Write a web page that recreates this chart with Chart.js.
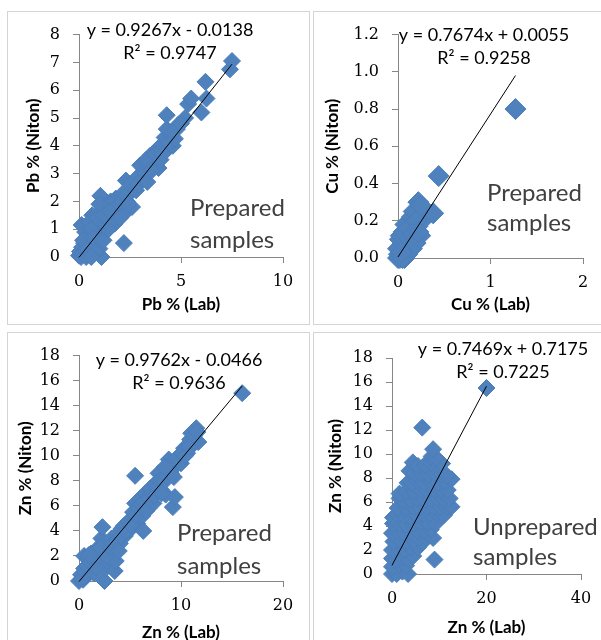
<!DOCTYPE html>
<html>
<head>
<meta charset="utf-8">
<script src="https://cdn.jsdelivr.net/npm/chart.js@4"></script>
<style>
body{margin:0;background:#fff;width:601px;height:640px;overflow:hidden;position:relative}
.box{position:absolute;border:1px solid #d4d4d4;background:#fff;overflow:hidden}
.box canvas{position:absolute;left:0;top:0}
</style>
</head>
<body>
<div class="box" style="left:7px;top:11px;width:301px;height:312px"><canvas id="pb" width="301" height="312"></canvas></div>
<div class="box" style="left:313px;top:11px;width:300px;height:312px"><canvas id="cu" width="287" height="312"></canvas></div>
<div class="box" style="left:7px;top:332px;width:301px;height:320px"><canvas id="zn" width="301" height="320"></canvas></div>
<div class="box" style="left:313px;top:332px;width:300px;height:320px"><canvas id="znu" width="287" height="320"></canvas></div>
<script>
// Pb, prepared samples: [lab, niton]
const pbPoints = [
  [0.0,0.05],[0.05,0.2],[0.1,0.0],[0.15,0.35],[0.2,0.1],[0.25,0.5],[0.3,0.25],[0.35,0.0],[0.4,0.7],[0.45,0.4],
  [0.5,0.15],[0.55,0.9],[0.6,0.55],[0.65,1.5],[0.7,0.3],[0.75,1.1],[0.8,0.75],[0.85,1.3],[0.9,0.5],[0.95,1.0],
  [1.0,1.6],[1.05,2.2],[1.1,0.0],[1.1,0.8],[1.15,1.25],[1.2,1.85],[1.25,1.0],[1.3,1.5],[1.35,0.95],[1.4,1.7],
  [1.5,1.3],[1.55,2.0],[1.6,1.45],[1.7,1.75],[1.75,1.2],[1.8,2.1],[1.9,1.6],[2.0,1.9],[2.1,2.25],[2.2,0.5],
  [2.2,1.55],[2.3,2.75],[2.35,2.0],[2.5,2.3],[2.6,1.8],[2.7,2.6],[0.13,1.15],[0.3,0.9],[0.5,1.25],
  [0.2,0.6],[0.4,0.3],[0.6,1.0],[0.7,0.7],[0.9,1.4],[1.0,0.3],[1.2,0.6],[1.3,1.2],[1.45,1.0],[1.6,1.9],
  [1.7,1.4],[1.85,1.8],[2.0,1.4],[2.1,2.0],[2.3,2.2],[2.4,1.9],[2.5,2.6],[2.8,2.4],[2.9,2.9],[1.0,1.9],
  [0.8,0.2],[0.6,0.0],[1.2,1.5],[1.5,1.65],[2.9,2.6],[3.15,3.2],
  [3.0,3.3],[3.1,2.8],[3.25,3.05],[3.35,2.7],[3.4,3.3],[3.5,3.65],[3.7,3.5],[3.8,3.85],[3.9,3.2],[4.0,4.0],
  [3.6,3.4],[3.3,3.5],[3.55,3.1],[3.75,3.7],[4.05,3.85],[4.2,4.3],[4.35,3.9],[4.5,4.3],[4.6,4.0],[4.8,4.6],
  [4.85,4.75],[5.2,5.0],[4.0,3.5],
  [4.1,3.7],[4.3,4.6],[4.3,5.1],[4.4,4.1],[4.7,4.25],[4.6,4.5],[5.0,4.8],[5.35,5.5],[5.5,5.7],[6.0,5.2],
  [6.25,5.7],[6.2,6.3],[7.4,6.75],[7.5,7.05]
];
// Cu, prepared samples
const cuPoints = [
  [0.0,0.0],[0.01,0.02],[0.02,0.0],[0.03,0.05],[0.04,0.01],[0.05,0.08],[0.06,0.03],[0.07,0.0],[0.08,0.1],[0.09,0.05],
  [0.1,0.12],[0.1,0.02],[0.12,0.08],[0.13,0.2],[0.14,0.15],[0.15,0.05],[0.16,0.18],[0.17,0.1],[0.18,0.21],[0.19,0.14],
  [0.2,0.24],[0.21,0.17],[0.22,0.3],[0.23,0.22],[0.24,0.12],[0.26,0.2],[0.28,0.25],[0.38,0.24],[0.44,0.44],[1.27,0.8],
  [0.0,0.05],[0.02,0.1],[0.05,0.0],[0.03,0.12],[0.06,0.14],[0.08,0.18],[0.11,0.16],[0.13,0.1],[0.15,0.22],[0.17,0.25],
  [0.2,0.2],[0.25,0.28],[0.11,0.06],[0.16,0.13],[0.19,0.08],[0.22,0.14],[0.04,0.03]
];
// Zn, prepared samples
const znPoints = [
  [0.0,0.0],[0.2,0.5],[0.4,0.1],[0.5,1.0],[0.5,2.0],[0.7,0.4],[0.9,1.8],[1.0,0.8],[1.2,2.2],[1.3,1.2],
  [1.5,0.6],[1.6,1.7],[1.8,2.6],[2.0,1.4],[2.2,3.4],[2.3,4.3],[2.4,2.2],[2.5,0.0],[2.6,1.0],[2.8,2.8],
  [3.0,1.8],[3.2,3.4],[3.4,2.6],[3.5,0.8],[3.6,1.6],[3.8,3.8],[4.0,3.0],[4.2,4.2],[4.5,3.6],[4.7,4.6],
  [5.0,4.1],[5.2,5.0],[5.5,8.4],[5.5,6.2],[5.7,4.6],[6.0,6.6],[6.2,5.2],[6.3,4.0],[6.5,7.0],[6.8,5.8],
  [7.0,7.4],[7.3,6.2],[7.5,7.8],[7.8,8.6],[8.0,7.3],[8.3,8.2],[8.5,6.9],[8.8,9.7],[9.0,8.6],[9.2,5.9],
  [9.4,6.7],[9.5,9.2],[9.8,10.0],[10.0,9.4],[10.3,10.6],[10.6,10.2],[10.9,11.3],[11.2,10.9],[11.5,12.2],[11.7,11.1],
  [11.0,11.8],[0.3,0.2],[0.6,0.7],[0.8,1.2],[1.1,1.5],[1.4,1.9],[1.7,1.1],[1.9,2.0],[2.1,2.7],[2.7,2.0],
  [3.1,2.7],[3.3,3.0],[3.7,3.2],[3.9,2.4],[4.1,3.6],[4.4,4.4],[4.6,4.0],[4.9,4.8],[5.1,4.5],[5.3,5.5],
  [5.6,5.3],[5.9,5.8],[6.1,6.1],[6.4,6.3],[6.6,5.6],[6.9,6.6],[7.2,7.0],[7.4,6.8],[7.7,7.5],[7.9,8.0],
  [8.2,7.8],[8.6,8.4],[8.9,8.9],[9.1,9.4],[9.3,8.3],[9.6,9.8],[10.1,10.2],[10.4,10.0],[10.8,10.7],[11.3,11.6],
  [11.6,11.9],[8.4,9.1],[8.1,7.0],[1.0,2.1],[16.0,15.0]
];
// Zn, unprepared samples
const znuPoints = [
  [0,0],[1,0],[2.2,0.2],[3.4,0],
  [0,0.6],[1.5,0.8],[3,0.7],
  [0,1.3],[0.9,1.2],[2.2,1.4],[3.6,1.2],[4.5,1.5],
  [0,2],[1.3,2.1],[2.6,2.0],[4,2.2],[5.5,2.2],[6.4,2.6],
  [0.3,2.7],[1.8,2.8],[3.2,2.7],[4.6,2.8],[5.8,3.0],[7.2,3.0],[8.7,3.0],
  [0,3.4],[1,3.6],[2.5,3.4],[4,3.5],[5.4,3.6],[6.8,3.6],[8.2,3.7],
  [0.2,4.2],[1.7,4.2],[3,4.1],[4.6,4.2],[6,4.3],[7.5,4.3],[9.2,4.2],
  [0.2,4.7],[1,5],[2.4,4.9],[3.8,4.8],[5.2,4.9],[6.6,5.0],[8,5.0],[9.6,5.0],[11,4.9],
  [1.2,5.5],[3,5.5],[4.5,5.6],[6,5.5],[7.4,5.6],[8.8,5.6],[10.2,5.6],[11.6,5.6],[12.6,5.6],
  [1.6,6.3],[2.4,6.1],[3.8,6.2],[5.3,6.3],[6.8,6.2],[8.2,6.2],[9.6,6.3],[11,6.2],[12.2,6.3],
  [1.6,6.7],[3,6.9],[4.5,6.9],[6,7.0],[7.5,6.9],[9,7.0],[10.4,7.0],[11.8,7.0],
  [3.3,7.6],[4.2,7.6],[5.3,7.8],[6.8,7.6],[8.3,7.7],[9.7,7.6],[11.2,7.7],[12.6,7.9],
  [3.7,8.6],[4.8,8.4],[6.2,8.4],[7.6,8.3],[9.1,8.4],[10.4,8.3],[11.6,8.2],
  [4.4,9.3],[5.5,9.0],[7,9.1],[8.4,9.2],[9.8,9.1],[10.6,9.2],
  [8.4,9.8],[9.3,9.7],[8.7,10.4],[6.4,12.2],[9,1.2],[20,15.5]
];

// axis ticks
const pbXTicks = [0, 5, 10],  pbYTicks = [0, 1, 2, 3, 4, 5, 6, 7, 8];
const cuXTicks = [0, 1, 2],   cuYTicks = [0, 0.2, 0.4, 0.6, 0.8, 1.0, 1.2];
const znXTicks = [0, 10, 20], znYTicks = [0, 2, 4, 6, 8, 10, 12, 14, 16, 18];
const znuXTicks = [0, 20, 40], znuYTicks = [0, 2, 4, 6, 8, 10, 12, 14, 16, 18];

// trendlines y = m x + b
const pbFit = [0.9267, -0.0138],  pbR2 = 0.9747;
const cuFit = [0.7674, 0.0055],   cuR2 = 0.9258;
const znFit = [0.9762, -0.0466],  znR2 = 0.9636;
const znuFit = [0.7469, 0.7175],  znuR2 = 0.7225;

const BLUE = '#4f81bd';
const AXIS = '#868686';

function eqText(fit) {
  const sign = fit[1] < 0 ? ' - ' : ' + ';
  return 'y = ' + fit[0].toFixed(4) + 'x' + sign + Math.abs(fit[1]).toFixed(4);
}

const notes = {
  id: 'notes',
  afterDraw(chart, args, o) {
    const ctx = chart.ctx;
    ctx.save();
    ctx.fillStyle = '#000';
    ctx.textAlign = 'center';
    ctx.textBaseline = 'middle';
    ctx.font = '18px Lato';
    ctx.fillText(o.eq, o.eqX, o.eqY);
    ctx.fillText(o.r2, o.eqX, o.eqY + 23);
    ctx.font = '24px Lato';
    ctx.fillStyle = '#404040';
    ctx.textAlign = 'left';
    o.caption.forEach((t, i) => ctx.fillText(t, o.capX, o.capY + i * o.capGap));
    ctx.restore();
  }
};

function makeChart(id, pts, fit, r2, xTicks, yTicks, xTitle, yTitle, caption, L) {
  const xs = pts.map(p => p[0]);
  const x0 = Math.min(...xs), x1 = Math.max(...xs);
  const trend = [x0, x1].map(x => ({x: x, y: fit[0] * x + fit[1]}));
  const fmt = L.dec ? (v => Number(v).toFixed(1)) : (v => v);
  const tickFont = {family: 'DejaVu Serif', size: 16, lineHeight: 1.2};
  const titleFont = {family: 'Lato', size: 17, weight: 'bold', lineHeight: 1.2};
  const canvas = document.getElementById(id);
  new Chart(canvas, {
    type: 'scatter',
    data: {
      datasets: [
        {data: trend, showLine: true, borderColor: '#000', borderWidth: 1, pointRadius: 0, order: 0, clip: false},
        {data: pts.map(p => ({x: p[0], y: p[1]})), pointStyle: 'rectRot', pointRadius: L.r,
         backgroundColor: BLUE, borderColor: '#4a7ebb', borderWidth: 1, order: 1, clip: false}
      ]
    },
    options: {
      responsive: false,
      animation: false,
      events: [],
      layout: {padding: {top: L.t, right: canvas.width - L.r2, left: 0, bottom: 0}},
      plugins: {
        legend: {display: false},
        tooltip: {enabled: false},
        notes: {eq: eqText(fit), r2: 'R\u00b2 = ' + r2.toFixed(4), eqX: L.eqX, eqY: L.eqY,
                caption: caption, capX: L.capX, capY: L.capY, capGap: L.capGap}
      },
      scales: {
        x: {
          type: 'linear', min: xTicks[0], max: xTicks[xTicks.length - 1],
          afterBuildTicks: s => { s.ticks = xTicks.map(v => ({value: v})); },
          afterFit: s => { s.height = canvas.height - L.b; },
          grid: {display: true, drawOnChartArea: false, drawTicks: true, tickLength: 6, color: AXIS},
          border: {display: true, color: AXIS},
          ticks: {color: '#000', font: tickFont, padding: 9, maxRotation: 0, autoSkip: false},
          title: {display: true, text: xTitle, color: '#000', font: titleFont,
                  padding: {top: 0, bottom: canvas.height - L.xt - 10}}
        },
        y: {
          type: 'linear', min: yTicks[0], max: yTicks[yTicks.length - 1],
          afterBuildTicks: s => { s.ticks = yTicks.map(v => ({value: v})); },
          afterFit: s => { s.width = L.l; },
          grid: {display: true, drawOnChartArea: false, drawTicks: true, tickLength: 6, color: AXIS},
          border: {display: true, color: AXIS},
          ticks: {color: '#000', font: tickFont, padding: 13, autoSkip: false, callback: fmt},
          title: {display: true, text: yTitle, color: '#000', font: titleFont,
                  padding: {top: L.yt - 10, bottom: 0}}
        }
      }
    },
    plugins: [notes]
  });
}

makeChart('pb', pbPoints, pbFit, pbR2, pbXTicks, pbYTicks, 'Pb % (Lab)', 'Pb % (Niton)', ['Prepared', 'samples'],
  {l: 71, r2: 275, t: 12, b: 245, xt: 293, yt: 25, r: 8.5, eqX: 162, eqY: 18, capX: 182, capY: 196, capGap: 32});
makeChart('cu', cuPoints, cuFit, cuR2, cuXTicks, cuYTicks, 'Cu % (Lab)', 'Cu % (Niton)', ['Prepared', 'samples'],
  {l: 84, r2: 269, t: 11, b: 246, xt: 293, yt: 18, r: 10.5, dec: true, eqX: 170, eqY: 23, capX: 173, capY: 181, capGap: 30});
makeChart('zn', znPoints, znFit, znR2, znXTicks, znYTicks, 'Zn % (Lab)', 'Zn % (Niton)', ['Prepared', 'samples'],
  {l: 71, r2: 275, t: 10, b: 248, xt: 300, yt: 17, r: 8.5, eqX: 171, eqY: 27, capX: 169, capY: 200, capGap: 33});
makeChart('znu', znuPoints, znuFit, znuR2, znuXTicks, znuYTicks, 'Zn % (Lab)', 'Zn % (Niton)', ['Unprepared', 'samples'],
  {l: 78, r2: 267, t: 25, b: 241, xt: 295, yt: 21, r: 8.5, eqX: 189, eqY: 16, capX: 159, capY: 194, capGap: 30});
</script>
</body>
</html>
